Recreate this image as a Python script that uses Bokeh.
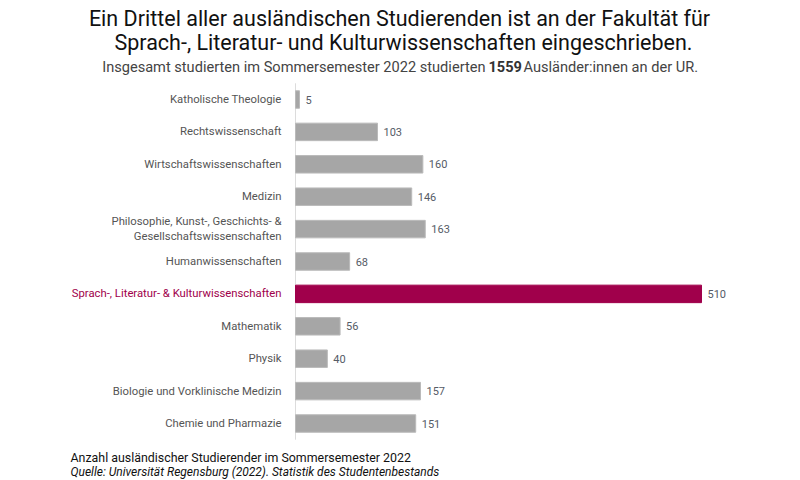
from bokeh.plotting import figure
from bokeh.models import Range1d, Label, ColumnDataSource
from bokeh.core.properties import value
from bokeh.embed import file_html
from bokeh.resources import INLINE

categories = [
    "Katholische Theologie",
    "Rechtswissenschaft",
    "Wirtschaftswissenschaften",
    "Medizin",
    "Philosophie, Kunst-, Geschichts- &\nGesellschaftswissenschaften",
    "Humanwissenschaften",
    "Sprach-, Literatur- & Kulturwissenschaften",
    "Mathematik",
    "Physik",
    "Biologie und Vorklinische Medizin",
    "Chemie und Pharmazie",
]
values = [5, 103, 160, 146, 163, 68, 510, 56, 40, 157, 151]
highlighted = "Sprach-, Literatur- & Kulturwissenschaften"

title_lines = [
    "Ein Drittel aller ausländischen Studierenden ist an der Fakultät für",
    "Sprach-, Literatur- und Kulturwissenschaften eingeschrieben.",
]
subtitle_parts = [
    "Insgesamt studierten im Sommersemester 2022 studierten",
    "1559",
    "Ausländer:innen an der UR.",
]
footer_lines = [
    "Anzahl ausländischer Studierender im Sommersemester 2022",
    "Quelle: Universität Regensburg (2022). Statistik des Studentenbestands",
]

FONT = "Roboto"
GREY = "#a6a6a6"
GREY_LINE = "#bababa"
HL = "#a0004b"
LABEL_C = "#555555"
VAL_C = "#555b66"

n = len(categories)
ypos = [n - 1 - i for i in range(n)]  # first category on top
fill = [HL if c == highlighted else GREY for c in categories]
line = [HL if c == highlighted else GREY_LINE for c in categories]
lab_col = [HL if c == highlighted else LABEL_C for c in categories]

src = ColumnDataSource(dict(y=ypos, cat=categories, val=values, fill=fill, line=line,
                            lab=lab_col, vtxt=[str(v) for v in values]))

W, H = 800, 480
ROW = 32.4          # px per category
TOP_ROW_Y = 99      # px of top row centre
SCALE = 406 / 510.0 # px per student
ZERO_X = 295        # px of value 0

p = figure(width=W, height=H, output_backend="svg", toolbar_location=None,
           x_range=Range1d(-ZERO_X / SCALE, (W - ZERO_X) / SCALE),
           y_range=Range1d((n - 1) - (H - TOP_ROW_Y) / ROW, (n - 1) + TOP_ROW_Y / ROW),
           x_axis_location=None, y_axis_location=None,
           min_border=0)
p.outline_line_color = None
p.xgrid.visible = False
p.ygrid.visible = False
p.background_fill_color = "white"
p.border_fill_color = "white"

# vertical baseline at zero
p.segment(x0=[0], x1=[0], y0=[-0.5], y1=[n - 0.5], line_color="#dcdcdc", line_width=1)

p.hbar(y="y", left=0, right="val", height=0.54, fill_color="fill", line_color="line",
       line_width=1, source=src)

p.text(x=0, y="y", text="cat", x_offset=-14, text_align="right", text_baseline="middle",
       text_font=value(FONT), text_font_size="11.3px", text_color="lab", source=src,
       text_line_height=1.15)
p.text(x="val", y="y", text="vtxt", x_offset=6, text_align="left", text_baseline="middle",
       text_font=value(FONT), text_font_size="11px", text_color=VAL_C, source=src)

def lab(x, y, text, align="left", size="12px", style="normal", color="#111111"):
    p.add_layout(Label(x=x, y=H - y, x_units="screen", y_units="screen",
                       text=text, text_align=align, text_baseline="middle",
                       text_font=FONT, text_font_size=size, text_font_style=style,
                       text_color=color))

lab(399, 18, title_lines[0], "center", "21.5px")
lab(403, 42, title_lines[1], "center", "21.5px")
lab(485, 66, subtitle_parts[0], "right", "14.6px", color="#444444")
lab(488, 66, subtitle_parts[1], "left", "14.6px", "bold", "#333333")
lab(523, 66, subtitle_parts[2], "left", "14.6px", color="#444444")
lab(70, 457, footer_lines[0], size="12.4px")
lab(70, 471, footer_lines[1], size="12px", style="italic")

open("out.html", "w").write(file_html(p, INLINE))
